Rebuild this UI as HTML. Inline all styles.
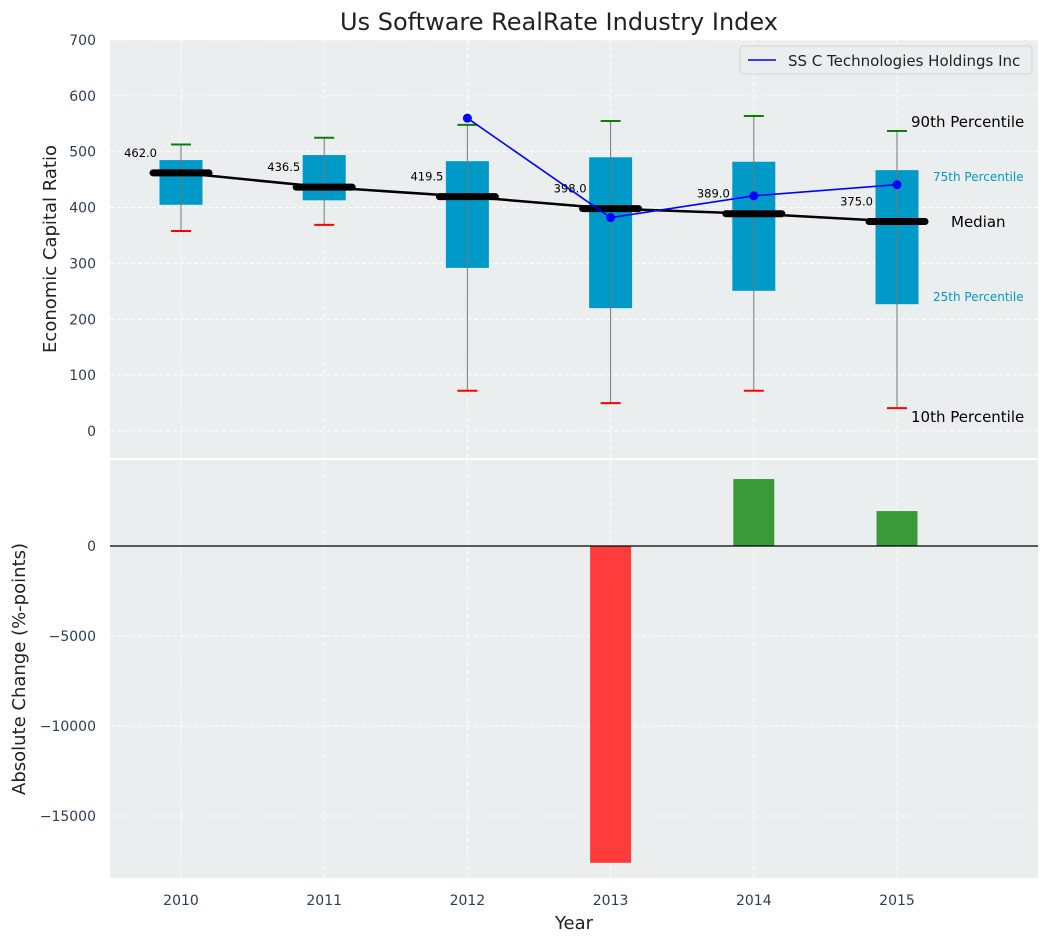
<!DOCTYPE html>
<html><head><meta charset="utf-8"><style>
body{margin:0;background:#fff;}
svg{display:block;font-family:"DejaVu Sans","Liberation Sans",sans-serif;}
</style></head><body>
<svg id="chart" width="1048" height="942"></svg>
<script>
const years=[2010,2011,2012,2013,2014,2015];
const p10=[358,369,72,50,72,41];
const q1=[405,413,292,220,251,227];
const medians=[462,436.5,419.5,398,389,375];
const q3=[485,494,483,490,482,467];
const p90=[513,525,548,555,564,537];
const companyYears=[2012,2013,2014,2015];
const companyVals=[560,382,421,441];
const changeYears=[2013,2014,2015];
const changeVals=[-17600,3720,1940];
const topTicks=[0,100,200,300,400,500,600,700];
const botTicks=[0,-5000,-10000,-15000];

const svg=document.getElementById('chart');
const NS='http://www.w3.org/2000/svg';
function el(t,a,txt){const e=document.createElementNS(NS,t);for(const k in a)e.setAttribute(k,a[k]);if(txt!==undefined)e.textContent=txt;svg.appendChild(e);return e;}
const X=y=>181+(y-2010)*143.2;
const Y1=v=>431-v*0.5586;
const Y2=v=>546-v*0.018;
const L=110,R=1038;

let e;
e=el('rect',{x:L,y:40,width:R-L,height:418,fill:'#eaeeee'});

e=el('rect',{x:L,y:460,width:R-L,height:418,fill:'#eaeeee'});


years.forEach(y=>{
 e=el('line',{x1:X(y),x2:X(y),y1:40,y2:458,stroke:'#fff','stroke-dasharray':'4,3','stroke-width':1});
 
 e=el('line',{x1:X(y),x2:X(y),y1:460,y2:878,stroke:'#fff','stroke-dasharray':'4,3','stroke-width':1});
 
 e=el('text',{x:X(y),y:905,'text-anchor':'middle','font-size':14,fill:'#2e3e50'},y);
 
});
topTicks.forEach(v=>{
 e=el('line',{x1:L,x2:R,y1:Y1(v),y2:Y1(v),stroke:'#fff','stroke-dasharray':'4,3'});
 
 e=el('text',{x:96,y:Y1(v)+5,'text-anchor':'end','font-size':14,fill:'#2e3e50'},v);
 
});
botTicks.forEach(v=>{
 e=el('line',{x1:L,x2:R,y1:Y2(v),y2:Y2(v),stroke:'#fff','stroke-dasharray':'4,3'});
 
 e=el('text',{x:96,y:Y2(v)+5,'text-anchor':'end','font-size':14,fill:'#2e3e50'},v<0?'\u2212'+(-v):v);
 
});

years.forEach((y,i)=>{
 const x=X(y);
 e=el('rect',{x:x-21.5,y:Y1(q3[i]),width:43,height:Y1(q1[i])-Y1(q3[i]),fill:'#009ac9'});
 
 e=el('line',{x1:x,x2:x,y1:Y1(p10[i]),y2:Y1(p90[i]),stroke:'#6f7a7a','stroke-width':1});
 
 e=el('line',{x1:x-10,x2:x+10,y1:Y1(p90[i]),y2:Y1(p90[i]),stroke:'#0a800a','stroke-width':2});
 
 e=el('line',{x1:x-10,x2:x+10,y1:Y1(p10[i]),y2:Y1(p10[i]),stroke:'#f00','stroke-width':2});
 
});
e=el('polyline',{points:years.map((y,i)=>X(y)+','+Y1(medians[i])).join(' '),fill:'none',stroke:'#000','stroke-width':2.5});

years.forEach((y,i)=>{
 const x=X(y);
 e=el('line',{x1:x-28,x2:x+28,y1:Y1(medians[i]),y2:Y1(medians[i]),stroke:'#000','stroke-width':7,'stroke-linecap':'round'});
 
 e=el('text',{x:x-24,y:Y1(medians[i])-16,'text-anchor':'end','font-size':11.5,fill:'#000'},medians[i].toFixed(1));
 
});
e=el('polyline',{points:companyYears.map((y,i)=>X(y)+','+Y1(companyVals[i])).join(' '),fill:'none',stroke:'#0000ff','stroke-width':1.6});

companyYears.forEach((y,i)=>{
 e=el('circle',{cx:X(y),cy:Y1(companyVals[i]),r:4.5,fill:'#0000ff'});
 
});
const ann=[['90th Percentile',911,127,15,'#000'],['75th Percentile',933,181,12,'#009ac9'],['Median',951,227,15,'#000'],['25th Percentile',933,301,12,'#009ac9'],['10th Percentile',911,422,15,'#000']];
ann.forEach(a=>{e=el('text',{x:a[1],y:a[2],'font-size':a[3],fill:a[4]},a[0]);
 });

e=el('rect',{x:740,y:46,width:292,height:28,rx:3,fill:'#eaeeee',stroke:'#cfd4d4'});

e=el('line',{x1:748,x2:776,y1:60,y2:60,stroke:'#0000ff','stroke-width':1.6});

e=el('text',{x:788,y:66,'font-size':15,fill:'#222'},'SS C Technologies Holdings Inc');


changeYears.forEach((y,i)=>{
 const v=changeVals[i];
 e=el('rect',{x:X(y)-20.5,y:Math.min(Y2(v),Y2(0)),width:41,height:Math.abs(Y2(v)-Y2(0)),fill:v<0?'#ff3b3b':'#3a9a3a'});
 
});
e=el('line',{x1:L,x2:R,y1:Y2(0),y2:Y2(0),stroke:'#000','stroke-width':1.2});


e=el('text',{x:559,y:30,'text-anchor':'middle','font-size':24,fill:'#222'},'Us Software RealRate Industry Index');

e=el('text',{x:0,y:0,'text-anchor':'middle','font-size':18,fill:'#222',transform:'translate(56,249) rotate(-90)'},'Economic Capital Ratio');

e=el('text',{x:0,y:0,'text-anchor':'middle','font-size':18,fill:'#222',transform:'translate(25,669) rotate(-90)'},'Absolute Change (%-points)');

e=el('text',{x:574,y:929,'text-anchor':'middle','font-size':18,fill:'#222'},'Year');

</script>
</body></html>
